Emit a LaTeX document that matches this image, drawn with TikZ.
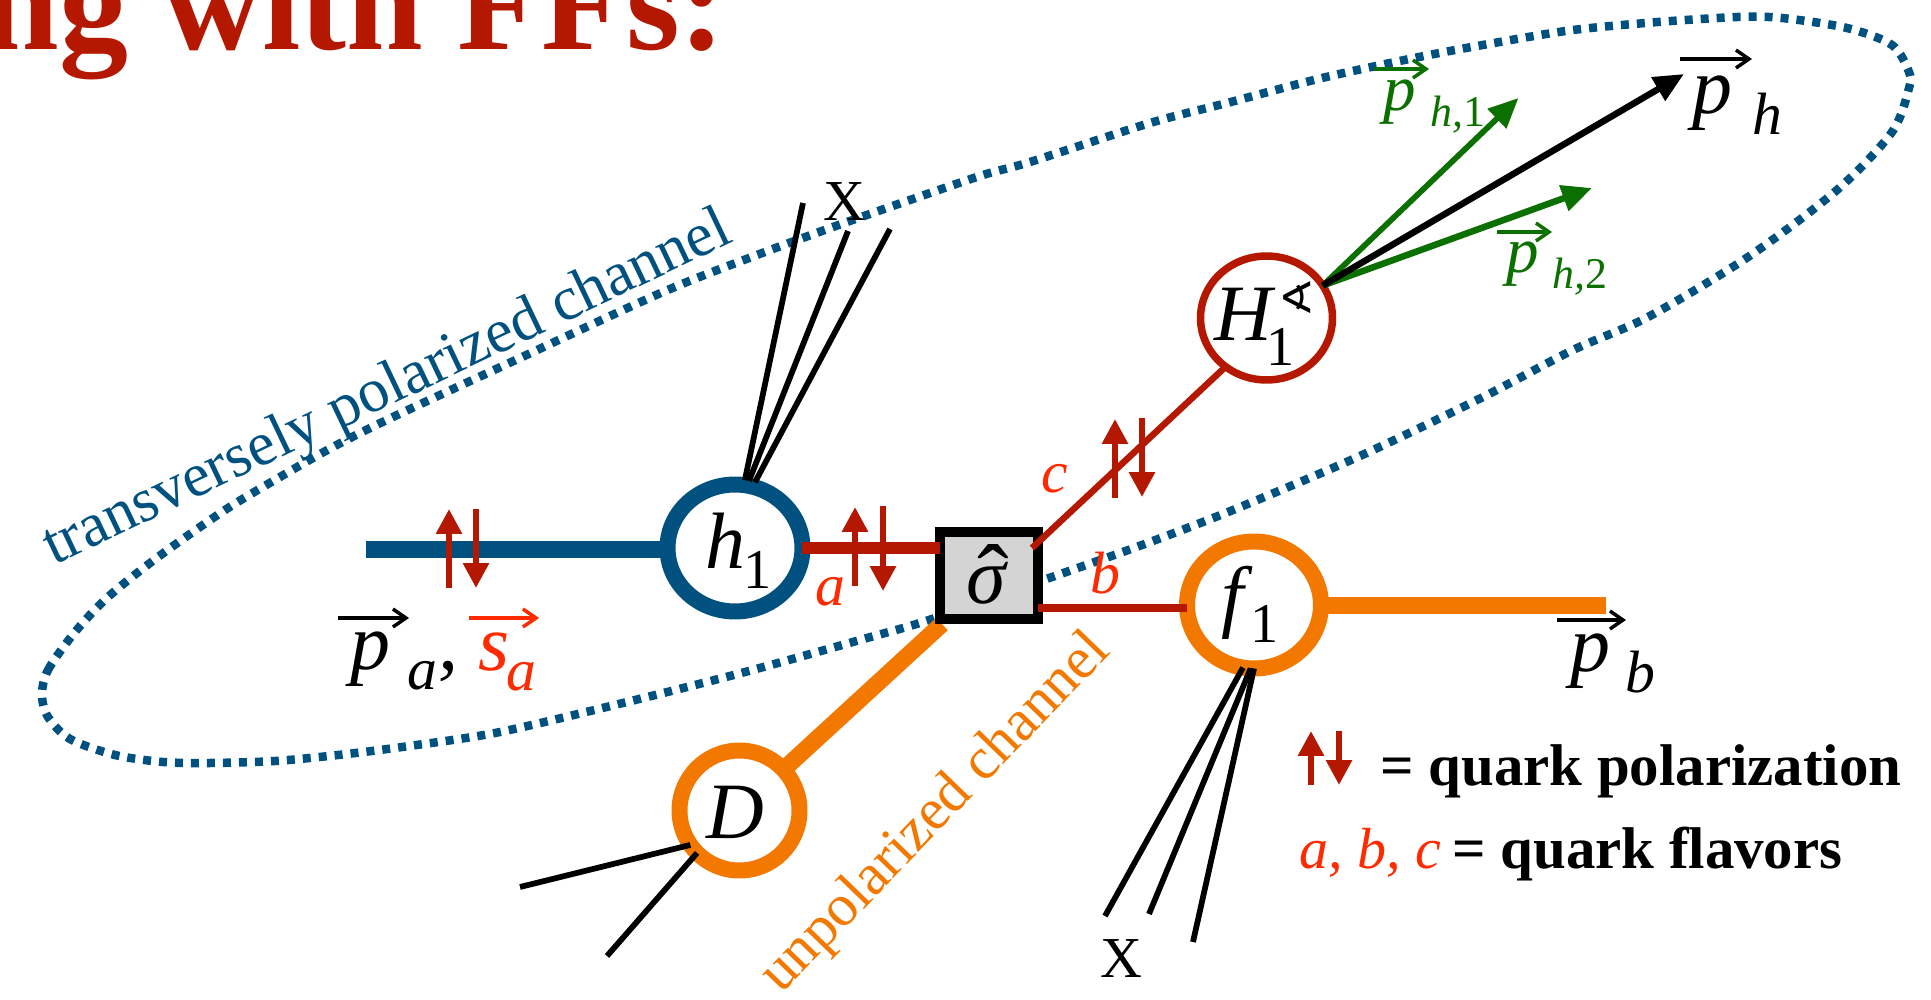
\documentclass[tikz,border=0pt]{standalone}
\usepackage{fontspec}
\setmainfont{Liberation Serif}
\newfontfamily\symfont{DejaVu Sans}
\usetikzlibrary{arrows.meta,shapes.geometric}
\definecolor{ChanBlue}{HTML}{005080}
\definecolor{ChanOrange}{HTML}{F37800}
\definecolor{QuarkRed}{HTML}{B51800}
\definecolor{LabelRed}{HTML}{FF2A00}
\definecolor{HadronGreen}{HTML}{0B7000}
\newcommand{\sz}[1]{\fontsize{#1}{#1}\selectfont}

\begin{document}
\begin{tikzpicture}[
  x=0.02cm,y=-0.02cm,
  ring/.style={ellipse,fill=white,inner sep=0pt,outer sep=0pt},
  lab/.style={inner sep=0pt,anchor=base west},
  big/.style={lab,font=\sz{45.5}\itshape},
  sub/.style={lab,font=\sz{34}\itshape},
  one/.style={lab,font=\sz{32}},
  mid/.style={lab,font=\sz{37}\itshape,text=HadronGreen},
  tiny/.style={lab,font=\sz{25},text=HadronGreen},
  flavor/.style={lab,font=\sz{34}\itshape,text=LabelRed},
  legend/.style={lab,font=\sz{33.5}\bfseries},
  spin/.style={draw=QuarkRed,line width=.12cm,-{Triangle[length=.5cm,width=.5cm]}},
  jet/.style={draw=black,line width=.115cm},
  vecbar/.style={line width=.07cm,-{Straight Barb[length=.26cm,width=.36cm]}},
  quark/.style={draw=QuarkRed},
  hadron/.style={line width=.13cm,-{Triangle[length=.6cm,width=.52cm]}},
]
\useasboundingbox (0,0) rectangle (1931,1000);
\clip (0,0) rectangle (1931,1000);
\node[inner sep=0pt,anchor=base east,font=\sz{78.5}\bfseries,text=QuarkRed] (title) at (726,50) {ng with FFs:};
% polarized channel
\draw[ChanBlue,line width=.17cm,dash pattern=on .16cm off .16cm] plot[smooth cycle] coordinates {
  (42,695) (48,670) (75,632) (108,597) (158,557) (225,510) (280,477) (333,447) (393,417)
  (520,358) (663,292) (757,255) (833,227) (907,201) (983,175) (1030,162) (1150,123)
  (1227,103) (1322,78) (1419,57) (1494,43) (1573,30) (1658,22) (1738,17) (1782,18)
  (1847,28) (1892,45) (1909,72) (1909,88) (1892,132) (1837,190) (1748,257) (1648,317)
  (1573,350) (1481,398) (1360,456) (1233,510) (1142,545) (1052,577) (929,620) (867,638)
  (745,672) (635,700) (500,732) (402,747) (338,755) (275,761) (210,763) (163,762)
  (115,755) (70,739) (48,717)};
\node[lab,font=\sz{35.3},text=ChanBlue,rotate=25.5] (polchan) at (54,566) {transversely polarized channel};
\node[lab,font=\sz{33.5},text=ChanOrange,rotate=46] (unpolchan) at (781,995) {unpolarized channel};
% blobs
\node[ring,draw=ChanBlue,line width=.32cm,minimum width=2.7cm,minimum height=2.54cm] (h1) at (735,548) {};
\node[ring,draw=ChanOrange,line width=.32cm,minimum width=2.68cm,minimum height=2.54cm] (f1) at (1254,605) {};
\node[ring,draw=ChanOrange,line width=.32cm,minimum width=2.4cm,minimum height=2.4cm] (D) at (739.5,810.5) {};
\node[ring,draw=QuarkRed,line width=.15cm,minimum width=2.64cm,minimum height=2.48cm] (H1) at (1266.5,318) {};
\coordinate (Dend) at (942,624);
\draw[ChanOrange,line width=.34cm] (D.43) -- (Dend);
\node[draw=black,fill=black!17,line width=.21cm,inner sep=0pt,outer sep=0pt,minimum width=1.96cm,minimum height=1.74cm] (sigma) at (989,575.5) {};
% beam lines
\coordinate (pastart) at (366,549);
\coordinate (pbend) at (1606,605);
\draw[ChanBlue,line width=.34cm] (pastart) -- (h1.west |- pastart);
\draw[ChanOrange,line width=.34cm] (f1.east) -- (pbend);
\draw[quark,line width=.23cm] (h1.east) -- (h1.east -| sigma.west);
\draw[quark,line width=.17cm] ([yshift=-.06cm]f1.west) -- ([yshift=-.06cm]f1.west -| sigma.east);
\coordinate (cstart) at (1032,548);
\draw[quark,line width=.13cm] (cstart) -- (H1.230);
% jets
\coordinate (xa) at (803,203);
\coordinate (xb) at (848,231);
\coordinate (xc) at (890,229);
\draw[jet,shorten >=.1cm] (xa) -- (h1.82);
\draw[jet,shorten >=.1cm] (xb) -- (h1.79);
\draw[jet,shorten >=.1cm] (xc) -- (h1.74);
\coordinate (xd) at (1105,916);
\coordinate (xe) at (1149,914);
\coordinate (xf) at (1193,942);
\draw[jet] (xd) -- (f1.-100);
\draw[jet] (xe) -- (f1.-93);
\draw[jet] (xf) -- (f1.south);
\coordinate (xg) at (520,887);
\coordinate (xh) at (607,956);
\draw[jet] (xg) -- (D.215);
\draw[jet] (xh) -- (D.225);
% outgoing hadrons
\coordinate (ph1tip) at (1518.5,98);
\coordinate (phtip) at (1684,74);
\coordinate (ph2tip) at (1592,188);
\draw[hadron,HadronGreen,line width=.115cm] (H1.30) -- (ph1tip);
\draw[hadron,HadronGreen] (H1.30) -- (ph2tip);
\draw[hadron,black] (H1.30) -- (phtip);
% quark polarization
\draw[spin] (449,588) -- (449,509);
\draw[spin] (476,509) -- (476,588);
\draw[spin] (855,586) -- (855,507);
\draw[spin] (883,506) -- (883,591);
\draw[spin] (1115,498) -- (1115,419);
\draw[spin] (1142,418) -- (1142,497);
\draw[spin] (1311,785) -- (1311,731);
\draw[spin] (1339,731) -- (1339,785);
% blob labels
\node[big] (h1h) at (705,568) {h};
\node[one] (h1one) at (743,588) {1};
\node[big] (f1f) at (1221,622) {f};
\node[one] (f1one) at (1250,642) {1};
\node[big] (Dlab) at (706,838) {D};
\node[big] (H1H) at (1214,340) {H};
\node[one] (H1one) at (1266,365) {1};
\node[inner sep=0pt,font=\symfont\sz{25}] (H1ang) at (1297,298) {∢};
\node[big] (sigmalab) at (966,603) {σ};
\node[inner sep=0pt,anchor=base,font=\sz{54}] (sigmahat) at (993,610) {ˆ};
% flavors
\node[flavor] (alab) at (815,605) {a};
\node[flavor] (blab) at (1090,593) {b};
\node[flavor] (clab) at (1041,492) {c};
% momenta
\draw[vecbar] (338,618) -- (409,618);
\node[big] (pa) at (350,669) {p};
\node[sub] (pasub) at (407,689) {a};
\node[big] (pacomma) at (438,669) {,};
\draw[vecbar,LabelRed] (469,618) -- (539,618);
\node[big,text=LabelRed] (sa) at (478,670) {s};
\node[sub,text=LabelRed] (sasub) at (506,690) {a};
\draw[vecbar] (1557,620) -- (1626,620);
\node[big] (pb) at (1570,671) {p};
\node[sub] (pbsub) at (1625,692) {b};
\draw[vecbar] (1680,59) -- (1752,59);
\node[big] (ph) at (1692,114) {p};
\node[sub] (phsub) at (1752,135) {h};
\draw[vecbar,HadronGreen] (1374,69) -- (1429,69);
\node[mid] (pha) at (1383,111) {p};
\node[tiny] (phasub) at (1430,127) {\itshape h,\upshape 1};
\draw[vecbar,HadronGreen] (1497,232) -- (1552,232);
\node[mid] (phb) at (1506,273) {p};
\node[tiny] (phbsub) at (1552,289) {\itshape h,\upshape 2};
% remnants
\node[lab,font=\sz{33}] (xtop) at (823,221) {X};
\node[lab,font=\sz{33}] (xbot) at (1100,977) {X};
% legend
\node[legend] (legpol) at (1380,785) {= quark polarization};
\node[flavor,font=\sz{33}\itshape] (legabc) at (1299,868) {a, b, c};
\node[legend] (legflav) at (1452,868) {= quark flavors};
\end{tikzpicture}
\end{document}
